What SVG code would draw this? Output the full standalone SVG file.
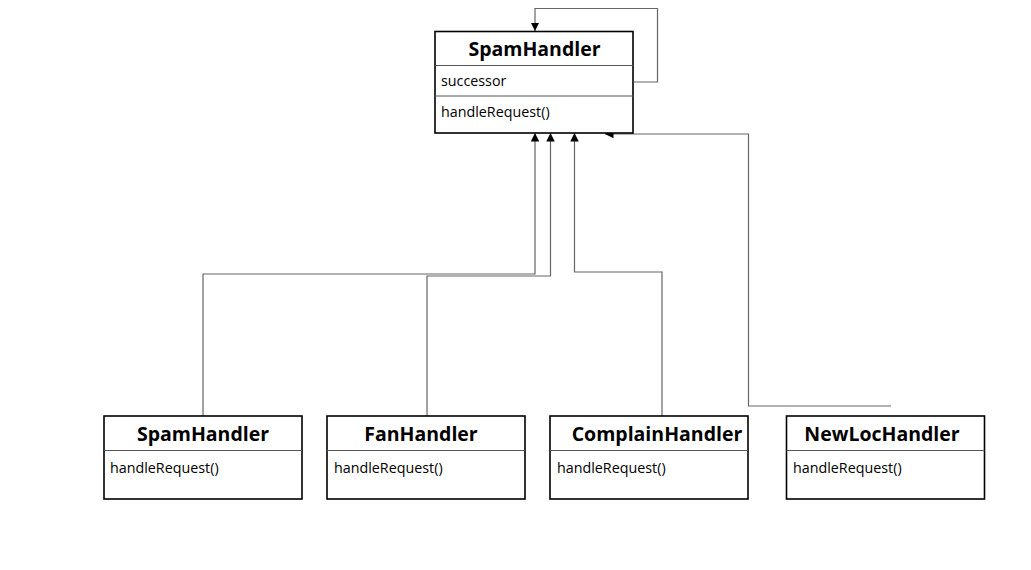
<svg xmlns="http://www.w3.org/2000/svg" width="1031" height="570" viewBox="0 0 1031 570">
<style>
.box{fill:#fff;stroke:#000;stroke-width:1.6}
.div{stroke:#555;stroke-width:1}
.title{font-family:"Open Sans","Noto Sans",sans-serif;font-weight:bold;font-size:19.5px;fill:#000;text-anchor:middle}
.txt{font-family:"Open Sans","Noto Sans",sans-serif;font-size:14.3px;fill:#000}
.con{fill:none;stroke:#666;stroke-width:1.2}
</style>
<defs>
<marker id="arr" viewBox="0 0 10 10" refX="10" refY="5" markerWidth="8.5" markerHeight="8.5" markerUnits="userSpaceOnUse" orient="auto">
<path d="M0,0 L10,5 L0,10 z" fill="#000"/>
</marker>
</defs>
<rect width="1031" height="570" fill="#fff"/>
<g id="connectors">
<path class="con" d="M634,82 H657.5 V8.5 H535 V31" marker-end="url(#arr)"/>
<path class="con" d="M203,416 V274 H535 V133" marker-end="url(#arr)"/>
<path class="con" d="M427,416 V276 H550.5 V133" marker-end="url(#arr)"/>
<path class="con" d="M662,416 V272 H574.5 V133" marker-end="url(#arr)"/>
<path class="con" d="M891,406 H748.5 V134 H605" marker-end="url(#arr)"/>
</g>
<g id="SpamHandlerBase">
<rect class="box" x="435" y="31.5" width="198" height="101.5"/>
<line class="div" x1="435" y1="65.5" x2="633" y2="65.5"/>
<line class="div" x1="435" y1="96" x2="633" y2="96"/>
<text class="title" x="534.5" y="56">SpamHandler</text>
<text class="txt" x="441" y="86">successor</text>
<text class="txt" x="441" y="117">handleRequest()</text>
</g>
<g id="SpamHandler">
<rect class="box" x="104" y="416" width="198" height="83"/>
<line class="div" x1="104" y1="450.5" x2="302" y2="450.5"/>
<text class="title" x="203" y="441">SpamHandler</text>
<text class="txt" x="110" y="473">handleRequest()</text>
</g>
<g id="FanHandler">
<rect class="box" x="327" y="416" width="198" height="83"/>
<line class="div" x1="327" y1="450.5" x2="525" y2="450.5"/>
<text class="title" x="421" y="441">FanHandler</text>
<text class="txt" x="334" y="473">handleRequest()</text>
</g>
<g id="ComplainHandler">
<rect class="box" x="550" y="416" width="198" height="83"/>
<line class="div" x1="550" y1="450.5" x2="748" y2="450.5"/>
<text class="title" x="657" y="441">ComplainHandler</text>
<text class="txt" x="557" y="473">handleRequest()</text>
</g>
<g id="NewLocHandler">
<rect class="box" x="786.5" y="416" width="198" height="83"/>
<line class="div" x1="786.5" y1="450.5" x2="984.5" y2="450.5"/>
<text class="title" x="882" y="441">NewLocHandler</text>
<text class="txt" x="793" y="473">handleRequest()</text>
</g>
</svg>
